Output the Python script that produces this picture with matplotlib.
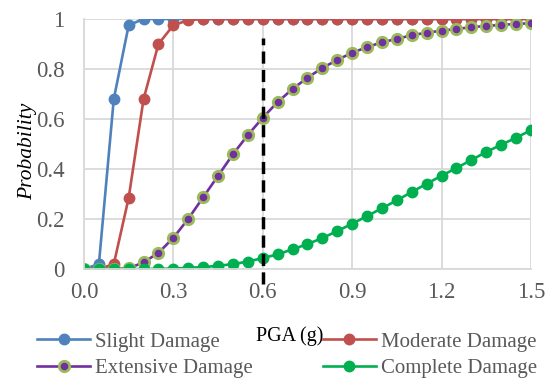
import matplotlib.pyplot as plt
import numpy as np

plt.rcParams['font.family'] = ['Liberation Serif', 'DejaVu Serif']

# PGA values (g)
pga = np.round(np.arange(0, 1.501, 0.05), 2)

slight = [0, 0.02, 0.68, 0.975, 1, 1, 1, 1, 1, 1, 1, 1, 1, 1, 1, 1,
          1, 1, 1, 1, 1, 1, 1, 1, 1, 1, 1, 1, 1, 1, 1]
moderate = [0, 0, 0.02, 0.285, 0.68, 0.90, 0.975, 0.995, 1, 1, 1, 1, 1, 1, 1, 1,
            1, 1, 1, 1, 1, 1, 1, 1, 1, 1, 1, 1, 1, 1, 1]
extensive = [0, 0, 0, 0.003, 0.027, 0.065, 0.125, 0.201, 0.287, 0.373, 0.459,
             0.536, 0.605, 0.668, 0.72, 0.765, 0.804, 0.836, 0.865, 0.887,
             0.907, 0.92, 0.935, 0.945, 0.953, 0.96, 0.967, 0.972, 0.976,
             0.98, 0.983]
complete = [0, 0, 0, 0, 0, 0.001, 0.002, 0.005, 0.008, 0.013, 0.02, 0.03,
            0.044, 0.059, 0.079, 0.1, 0.124, 0.152, 0.181, 0.212, 0.243,
            0.275, 0.308, 0.341, 0.373, 0.404, 0.436, 0.468, 0.497, 0.525,
            0.555]

fig = plt.figure(figsize=(5.49, 3.79), dpi=100)
ax = fig.add_axes([0.153, 0.290, 0.814, 0.660])

l1, = ax.plot(pga, slight, color='#4F81BD', lw=1.9, marker='o', ms=7.5, label='Slight Damage')
l2, = ax.plot(pga, moderate, color='#C0504D', lw=1.9, marker='o', ms=7.5, label='Moderate Damage')
l3, = ax.plot(pga, extensive, color='#7030A0', lw=1.9, marker='o', ms=7.5,
              mfc='#7030A0', mec='#9BBB59', mew=2, label='Extensive Damage')
l4, = ax.plot(pga, complete, color='#00B050', lw=1.9, marker='o', ms=7.5, label='Complete Damage')

# dashed marker line at 0.6 g
ax.plot([0.6, 0.6], [-0.06, 0.924], color='black', lw=2.5, ls=(0, (3.5, 1.8)), clip_on=False)

ax.set_xlim(0, 1.5)
ax.set_ylim(0, 1)
ax.set_xticks([0, 0.3, 0.6, 0.9, 1.2, 1.5])
ax.set_xticklabels(['0.0', '0.3', '0.6', '0.9', '1.2', '1.5'])
ax.set_yticks([0, 0.2, 0.4, 0.6, 0.8, 1])
ax.set_yticklabels(['0', '0.2', '0.4', '0.6', '0.8', '1'])
ax.grid(True, color='#D9D9D9', lw=1.3)
ax.set_axisbelow(True)
for s in ['top', 'right']:
    ax.spines[s].set_visible(False)
for s in ['left', 'bottom']:
    ax.spines[s].set_color('#D9D9D9')
    ax.spines[s].set_linewidth(1.3)
ax.tick_params(length=0, labelsize=16.5, colors='#595959')
ax.tick_params(axis='x', pad=9)
ax.tick_params(axis='y', pad=14)

ax.set_ylabel('Probability', fontsize=15.5, style='italic')
ax.yaxis.set_label_coords(-0.105, 0.47)
fig.text(290 / 549, 1 - 336 / 379, 'PGA (g)', fontsize=14.5, ha='center', va='center')

fig.legend([l1, l3, l2, l4],
           ['Slight Damage', 'Extensive Damage', 'Moderate Damage', 'Complete Damage'],
           loc='upper left', bbox_to_anchor=(37 / 549, 1 - 332 / 379), ncol=2, frameon=False,
           fontsize=15, handlelength=2.55, columnspacing=3.35, labelspacing=0.32,
           handletextpad=0.25, borderpad=0, borderaxespad=0, labelcolor='#595959')

fig.savefig('out.png', dpi=100)
